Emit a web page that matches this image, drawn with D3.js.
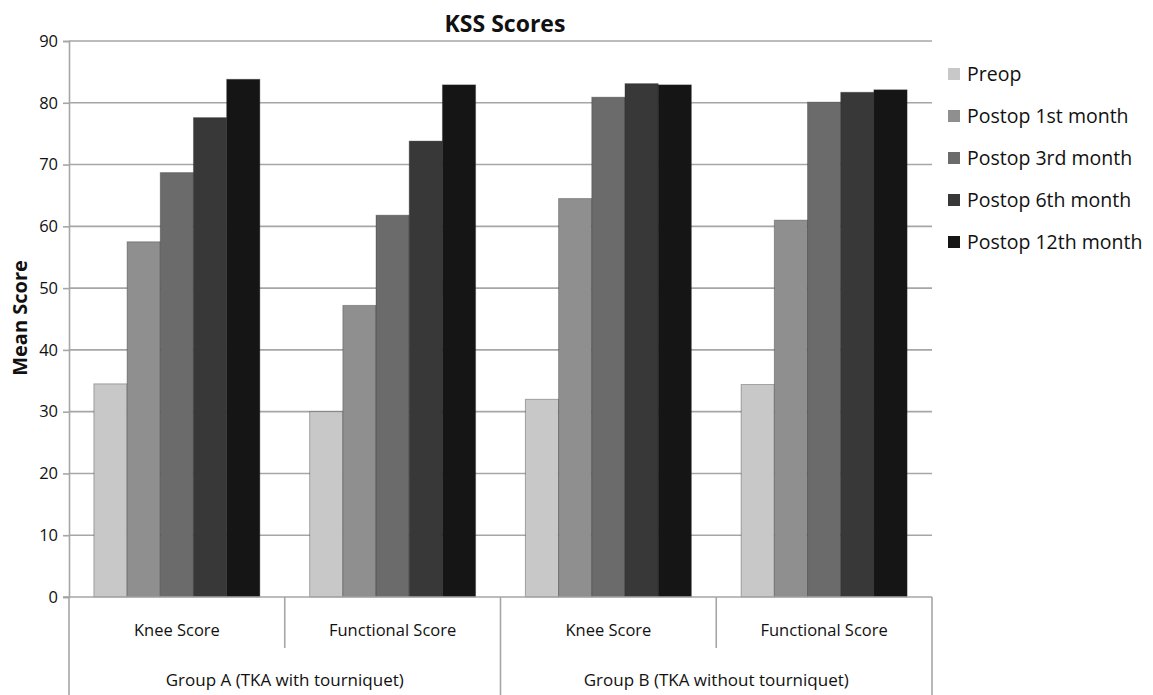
<!DOCTYPE html>
<html><head><meta charset="utf-8">
<script src="https://cdn.jsdelivr.net/npm/d3@7"></script>
<style>body{margin:0;background:#fff;} text{font-family:"Open Sans",sans-serif;fill:#111;}</style>
</head><body>
<svg id="c" width="1153" height="695"></svg>
<script>
const categories = ["Knee Score","Functional Score","Knee Score","Functional Score"];
const groups = ["Group A (TKA with tourniquet)","Group B (TKA without tourniquet)"];
const seriesNames = ["Preop","Postop 1st month","Postop 3rd month","Postop 6th month","Postop 12th month"];
const preop   = [34.5, 30.0, 32.0, 34.4];
const post1   = [57.5, 47.2, 64.5, 61.0];
const post3   = [68.7, 61.8, 80.9, 80.1];
const post6   = [77.6, 73.8, 83.1, 81.7];
const post12  = [83.8, 82.9, 82.9, 82.1];
const yTicks  = [0,10,20,30,40,50,60,70,80,90];
const colors  = ["#c8c8c8","#8f8f8f","#6b6b6b","#383838","#151515"];
const series = [preop, post1, post3, post6, post12];

const svg = d3.select("#c");
const L = 69, R = 932, T = 41, B = 597;
const y = d3.scaleLinear().domain([0,90]).range([B,T]);
const x0 = d3.scaleBand().domain(d3.range(categories.length)).range([L,R]).paddingInner(0).paddingOuter(0);
const x1 = d3.scaleBand().domain(d3.range(seriesNames.length)).range([0,x0.bandwidth()]).paddingInner(0).paddingOuter(0.75);

// gridlines
svg.append("g").selectAll("line").data(yTicks.filter(d=>d>0)).join("line")
  .attr("x1",L).attr("x2",R).attr("y1",d=>y(d)).attr("y2",d=>y(d))
  .attr("stroke","#a6a6a6").attr("stroke-width",1.6);

// y axis
const ya = svg.append("g").attr("transform",`translate(${L},0)`)
  .call(d3.axisLeft(y).tickValues(yTicks).tickSize(6).tickPadding(5));
ya.select(".domain").attr("stroke","#a6a6a6").attr("stroke-width",1.6);
ya.selectAll(".tick line").attr("stroke","#a6a6a6").attr("stroke-width",1.6);
ya.selectAll(".tick text").style("font-family","Open Sans").style("font-size","16.5px").attr("fill","#111");

// bars
categories.forEach((c,ci)=>{
  svg.append("g").selectAll("rect").data(series.map((s,si)=>({si,v:s[ci]}))).join("rect")
    .attr("x",d=>x0(ci)+x1(d.si)).attr("width",x1.bandwidth())
    .attr("y",d=>y(d.v)).attr("height",d=>B-y(d.v))
    .attr("fill",d=>colors[d.si]).attr("stroke","#2a2a2a").attr("stroke-opacity",0.35).attr("stroke-width",1);
});

// x axis line
svg.append("line").attr("x1",L-6).attr("x2",R).attr("y1",B).attr("y2",B).attr("stroke","#a6a6a6").attr("stroke-width",1.6);
// separators
d3.range(categories.length+1).forEach(i=>{
  const xx = i<categories.length ? x0(i) : R;
  const full = (i%2===0);
  svg.append("line").attr("x1",xx).attr("x2",xx).attr("y1",B).attr("y2",full?695:648)
    .attr("stroke","#a6a6a6").attr("stroke-width",1.6);
});
// category labels
svg.append("g").selectAll("text").data(categories).join("text")
  .attr("x",(d,i)=>x0(i)+x0.bandwidth()/2).attr("y",636).attr("text-anchor","middle")
  .style("font-size","16.5px").text(d=>d);
svg.append("g").selectAll("text").data(groups).join("text")
  .attr("x",(d,i)=>x0(i*2)+x0.bandwidth()).attr("y",686).attr("text-anchor","middle")
  .style("font-size","17px").text(d=>d);

// title
svg.append("text").attr("x",505).attr("y",32).attr("text-anchor","middle")
  .style("font-size","23px").style("font-weight","bold").text("KSS Scores");
// y label
svg.append("text").attr("transform","translate(27,318) rotate(-90)").attr("text-anchor","middle")
  .style("font-size","20px").style("font-weight","bold").text("Mean Score");

// legend
const lg = svg.append("g");
seriesNames.forEach((n,i)=>{
  const cy = 74 + i*42;
  lg.append("rect").attr("x",948).attr("y",cy-6).attr("width",12).attr("height",12).attr("fill",colors[i]);
  lg.append("text").attr("x",967).attr("y",cy).attr("dy","0.35em").style("font-size","19.5px").text(n);
});
</script>
</body></html>
